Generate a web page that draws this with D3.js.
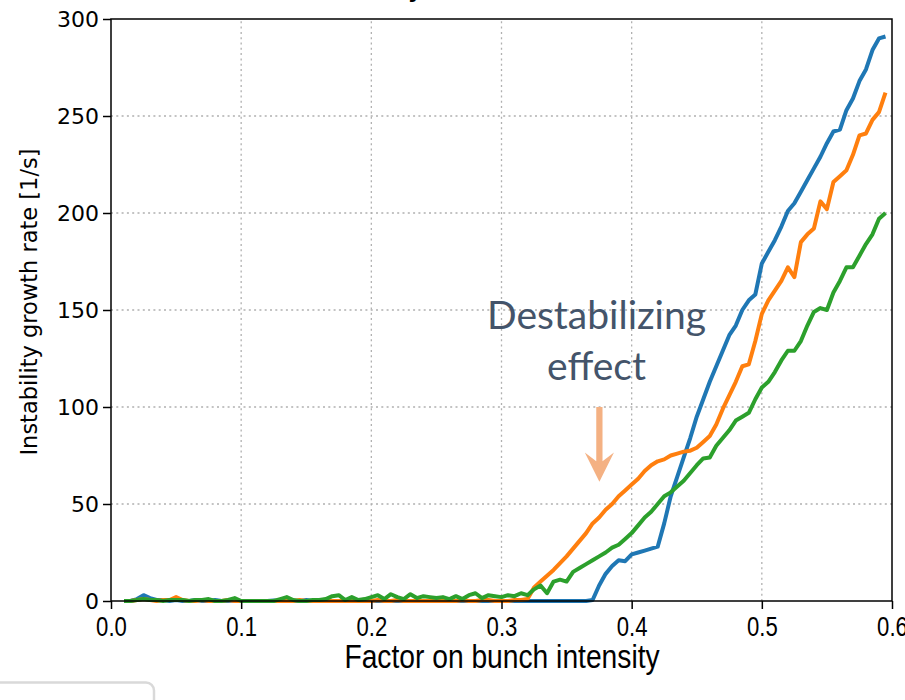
<!DOCTYPE html>
<html>
<head>
<meta charset="utf-8">
<script src="https://cdn.jsdelivr.net/npm/d3@7"></script>
<style>
  body { margin: 0; background: white; }
  svg { display: block; }
</style>
</head>
<body>
<div id="chart"></div>
<script>
// bunch intensity factor (x), step 0.005
const xs = [
  0.010,0.015,0.020,0.025,0.030,0.035,0.040,0.045,0.050,0.055,
  0.060,0.065,0.070,0.075,0.080,0.085,0.090,0.095,0.100,0.105,
  0.110,0.115,0.120,0.125,0.130,0.135,0.140,0.145,0.150,0.155,
  0.160,0.165,0.170,0.175,0.180,0.185,0.190,0.195,0.200,0.205,
  0.210,0.215,0.220,0.225,0.230,0.235,0.240,0.245,0.250,0.255,
  0.260,0.265,0.270,0.275,0.280,0.285,0.290,0.295,0.300,0.305,
  0.310,0.315,0.320,0.325,0.330,0.335,0.340,0.345,0.350,0.355,
  0.360,0.365,0.370,0.375,0.380,0.385,0.390,0.395,0.400,0.405,
  0.410,0.415,0.420,0.425,0.430,0.435,0.440,0.445,0.450,0.455,
  0.460,0.465,0.470,0.475,0.480,0.485,0.490,0.495,0.500,0.505,
  0.510,0.515,0.520,0.525,0.530,0.535,0.540,0.545,0.550,0.555,
  0.560,0.565,0.570,0.575,0.580,0.585,0.590,0.595
];

const blueVals = [
  0,0,1,3,1.5,0.5,0.5,0,0.5,0,
  0,0.5,0,0,0.5,0,0,0.3,0,0,
  0,0,0,0.3,0,0,0,0,0.5,0,
  0,0.3,0,0,0,0,0,0,0,0,
  0,0,0,0,0,0,0,0,0,0,
  0,0,0,0,0,0,0,0,0,0,
  0,0,0,0,0,0,0,0,0,0,
  0,0,
  0.5,8,14,18,21,20.5,24,25,26,27,
  28,40,54,64,74,84,95,104,113,121,
  129,137,142,150,155,158,174,180,186,193,
  201,205,211,217,223,229,236,242,243,253,
  259,268,274,284,290,291
];

const orangeVals = [
  0,0,0.5,1,0.5,0,0.5,0.5,2,0.5,
  0,0,0.5,0,0,0,0.5,0,0,0,
  0,0,0,0,0,0,0,0.5,0,0,
  0,0,0,0,0,0,0,0,0,0.5,
  0,0,0.5,0,0,0,0,0,0,0,
  0,0,0.5,0,0,0.5,0.5,0,0,0,
  0.5,0.5,
  1,7,10,13,16,19.5,23,27,31,35,
  40,43,47,50,54,57,60,63,67,70,
  72,73,75,76,77,77.5,79,82,85,91,
  99,106,113,121,122,134,148,155,160,165,
  172,167,185,189,192,206,202,216,219,222,
  230,240,241,248,252,262
];

const greenVals = [
  0,0,0.5,1,0.5,0.5,0,0.5,0.5,0.5,
  0,0.5,0.5,1,0,0,0.5,1.5,0,0,
  0,0,0,0,1,2,0.5,0,0,0.5,
  0.5,1,2.5,3,0.5,2,0.5,1,2,3,
  1,3.5,2,1,3.5,1.5,2.5,2,1.5,2,
  1,2.5,1,3,4,1.5,3,2.5,
  2,3,2.5,4,3,6,8,4,10,11,
  10,15,17,19,21,23,25,27.5,29,32,
  35,39,43,46,50,54,56,59,62,66,
  70,73.5,74,80,84,88,93,95,97,104,
  110,113,118,124,129,129,134,142,149,151,
  150,159,165,172,172,178,184,189,197,200
];

const xTicks = [0, 0.1, 0.2, 0.3, 0.4, 0.5, 0.6];
const yTicks = [0, 50, 100, 150, 200, 250, 300];

const seriesNames = ["blue", "orange", "green"];
const seriesColors = ["#1f77b4", "#ff7f0e", "#2ca02c"];

const annotationLines = ["Destabilizing", "effect"];

const width = 905;
const height = 700;
const margin = { top: 19, right: 13, bottom: 99, left: 111 };
const narrowFont = "'Liberation Sans', Arial, sans-serif";

const series = [blueVals, orangeVals, greenVals].map((vals, i) => ({
  name: seriesNames[i],
  color: seriesColors[i],
  points: vals.map((v, j) => ({ x: xs[j], y: v }))
}));

const svg = d3.select("#chart").append("svg")
  .attr("width", width)
  .attr("height", height);

const x = d3.scaleLinear().domain([0, 0.6]).range([margin.left, width - margin.right]);
const y = d3.scaleLinear().domain([0, 300]).range([height - margin.bottom, margin.top]);

// cropped title, only the descender shows
svg.append("text")
  .attr("x", 422)
  .attr("y", -2)
  .attr("text-anchor", "end")
  .style("font-family", "DejaVu Sans")
  .style("font-weight", "bold")
  .style("font-size", "22px")
  .text("Instability");

// grid
const grid = svg.append("g")
  .style("stroke", "#b0b0b0")
  .style("stroke-width", 1.3)
  .style("stroke-dasharray", "2,3.3");

grid.selectAll(".gx")
  .data(xTicks.slice(1, -1))
  .join("line")
  .attr("x1", d => x(d)).attr("x2", d => x(d))
  .attr("y1", y(0)).attr("y2", y(300));

grid.selectAll(".gy")
  .data(yTicks.slice(1, -1))
  .join("line")
  .attr("class", "gy")
  .attr("x1", x(0)).attr("x2", x(0.6))
  .attr("y1", d => y(d)).attr("y2", d => y(d));

// lines
const line = d3.line().x(d => x(d.x)).y(d => y(d.y));

svg.append("g")
  .selectAll("path")
  .data(series)
  .join("path")
  .attr("d", d => line(d.points))
  .attr("fill", "none")
  .attr("stroke", d => d.color)
  .attr("stroke-width", 4)
  .attr("stroke-linejoin", "round");

// axes
const yAxis = svg.append("g")
  .attr("transform", `translate(${margin.left},0)`)
  .call(d3.axisLeft(y).tickValues(yTicks).tickSize(8).tickSizeOuter(0).tickPadding(4));
yAxis.select(".domain").remove();
yAxis.selectAll("line").attr("stroke", "#000").attr("stroke-width", 1.5);
yAxis.selectAll("text")
  .style("font-family", "DejaVu Sans")
  .style("font-size", "22px")
  .attr("fill", "#000");

const xAxis = svg.append("g")
  .attr("transform", `translate(0,${height - margin.bottom})`)
  .call(d3.axisBottom(x).tickValues(xTicks).tickFormat(d3.format(".1f")).tickSize(8).tickSizeOuter(0).tickPadding(8));
xAxis.select(".domain").remove();
xAxis.selectAll("line").attr("stroke", "#000").attr("stroke-width", 1.5);
xAxis.selectAll("text")
  .style("font-family", narrowFont)
  .style("font-size", "27px")
  .attr("transform", "scale(0.82,1)")
  .attr("fill", "#000");

// frame
svg.append("rect")
  .attr("x", x(0))
  .attr("y", y(300))
  .attr("width", x(0.6) - x(0))
  .attr("height", y(0) - y(300))
  .attr("fill", "none")
  .attr("stroke", "#000")
  .attr("stroke-width", 1.5);

// axis labels
svg.append("text")
  .attr("transform", "translate(37,302) rotate(-90)")
  .attr("text-anchor", "middle")
  .style("font-family", "DejaVu Sans")
  .style("font-size", "22.5px")
  .text("Instability growth rate [1/s]");

svg.append("text")
  .attr("transform", "translate(502,668) scale(0.83,1)")
  .attr("text-anchor", "middle")
  .style("font-family", narrowFont)
  .style("font-size", "34px")
  .text("Factor on bunch intensity");

// annotation
const note = svg.append("g");
note.selectAll("text")
  .data(annotationLines)
  .join("text")
  .attr("x", x(0.373))
  .attr("y", (d, i) => y(i === 0 ? 140 : 114))
  .attr("text-anchor", "middle")
  .style("font-family", "Lato, 'Open Sans', sans-serif")
  .style("font-size", "39px")
  .attr("fill", "#44546a")
  .text(d => d);

const ax = 0.3752;
const half = 0.0024;
const headHalf = 0.0112;
const arrow = d3.path();
arrow.moveTo(x(ax - half), y(100));
arrow.lineTo(x(ax + half), y(100));
arrow.lineTo(x(ax + half), y(72));
arrow.lineTo(x(ax + headHalf), y(76.5));
arrow.lineTo(x(ax), y(61.5));
arrow.lineTo(x(ax - headHalf), y(76.5));
arrow.lineTo(x(ax - half), y(72));
arrow.closePath();
note.append("path")
  .attr("d", arrow.toString())
  .attr("fill", "#f4b183");

// cropped legend box at the bottom left
svg.append("rect")
  .attr("x", -12)
  .attr("y", 682.5)
  .attr("width", 166)
  .attr("height", 60)
  .attr("rx", 8)
  .attr("fill", "white")
  .attr("stroke", "#d9d9d9")
  .attr("stroke-width", 2.5);
</script>
</body>
</html>
